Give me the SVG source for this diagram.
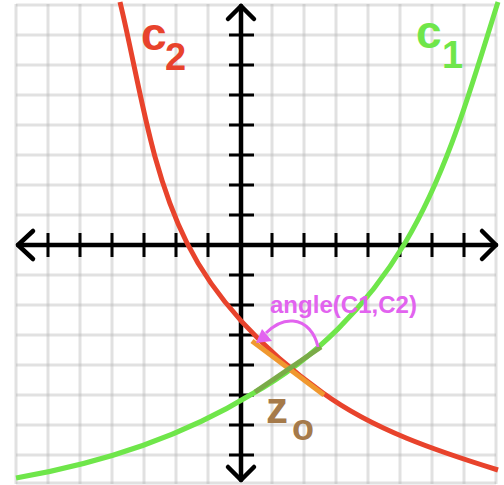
<svg xmlns="http://www.w3.org/2000/svg" width="504" height="485" viewBox="0 0 504 485">
<defs>
<style>
.grid line{stroke:#b8b8b8;stroke-opacity:0.42;stroke-width:3}
.axis{stroke:#000;stroke-width:4.5;fill:none;stroke-linecap:round;stroke-linejoin:round}
.tick line{stroke:#000;stroke-width:3}
.curve{fill:none;stroke-width:5;stroke-linecap:butt}
.lbl{font-family:"Liberation Sans",Arial,sans-serif;font-weight:bold}
</style>
</defs>
<rect width="504" height="485" fill="#fff"/>
<g id="grid" class="grid">
<line x1="16" y1="4" x2="16" y2="484"/><line x1="48" y1="4" x2="48" y2="484"/><line x1="80" y1="4" x2="80" y2="484"/><line x1="112" y1="4" x2="112" y2="484"/><line x1="144" y1="4" x2="144" y2="484"/><line x1="176" y1="4" x2="176" y2="484"/><line x1="208" y1="4" x2="208" y2="484"/><line x1="272" y1="4" x2="272" y2="484"/><line x1="304" y1="4" x2="304" y2="484"/><line x1="336" y1="4" x2="336" y2="484"/><line x1="368" y1="4" x2="368" y2="484"/><line x1="400" y1="4" x2="400" y2="484"/><line x1="432" y1="4" x2="432" y2="484"/><line x1="464" y1="4" x2="464" y2="484"/><line x1="496" y1="4" x2="496" y2="484"/>
<line x1="16" y1="5" x2="496" y2="5"/><line x1="16" y1="35" x2="496" y2="35"/><line x1="16" y1="65" x2="496" y2="65"/><line x1="16" y1="95" x2="496" y2="95"/><line x1="16" y1="125" x2="496" y2="125"/><line x1="16" y1="155" x2="496" y2="155"/><line x1="16" y1="185" x2="496" y2="185"/><line x1="16" y1="215" x2="496" y2="215"/><line x1="16" y1="275" x2="496" y2="275"/><line x1="16" y1="305" x2="496" y2="305"/><line x1="16" y1="335" x2="496" y2="335"/><line x1="16" y1="365" x2="496" y2="365"/><line x1="16" y1="395" x2="496" y2="395"/><line x1="16" y1="425" x2="496" y2="425"/><line x1="16" y1="455" x2="496" y2="455"/><line x1="16" y1="483" x2="496" y2="483"/>
</g>
<g id="axes">
<g class="tick">
<line x1="48" y1="233" x2="48" y2="257"/><line x1="80" y1="233" x2="80" y2="257"/><line x1="112" y1="233" x2="112" y2="257"/><line x1="144" y1="233" x2="144" y2="257"/><line x1="176" y1="233" x2="176" y2="257"/><line x1="208" y1="233" x2="208" y2="257"/><line x1="272" y1="233" x2="272" y2="257"/><line x1="304" y1="233" x2="304" y2="257"/><line x1="336" y1="233" x2="336" y2="257"/><line x1="368" y1="233" x2="368" y2="257"/><line x1="400" y1="233" x2="400" y2="257"/><line x1="432" y1="233" x2="432" y2="257"/><line x1="464" y1="233" x2="464" y2="257"/>
<line x1="229" y1="35" x2="254" y2="35"/><line x1="229" y1="65" x2="254" y2="65"/><line x1="229" y1="95" x2="254" y2="95"/><line x1="229" y1="125" x2="254" y2="125"/><line x1="229" y1="155" x2="254" y2="155"/><line x1="229" y1="185" x2="254" y2="185"/><line x1="229" y1="215" x2="254" y2="215"/><line x1="229" y1="275" x2="254" y2="275"/><line x1="229" y1="305" x2="254" y2="305"/><line x1="229" y1="335" x2="254" y2="335"/><line x1="229" y1="365" x2="254" y2="365"/><line x1="229" y1="395" x2="254" y2="395"/><line x1="229" y1="425" x2="254" y2="425"/><line x1="229" y1="455" x2="254" y2="455"/>
</g>
<line class="axis" x1="18" y1="245" x2="496" y2="245"/>
<line class="axis" x1="241" y1="6" x2="241" y2="480"/>
<polyline class="axis" points="33,231 18,245 33,259"/>
<polyline class="axis" points="482,231 496,245 482,259"/>
<polyline class="axis" points="228,19 241,6 254,19"/>
<polyline class="axis" points="228,467 241,480 254,467"/>
</g>
<g id="connectors">
<path id="C1" class="curve" stroke="#6fe64a" d="M16,478 C97,464 180,438 252,394 C315,359 368,305 405,243 C449,169 472,84 498,2"/>
<path id="C2" class="curve" stroke="#e8432c" d="M120,2 C139.5,82.7 149.9,168.8 187,243 C217,303 269,354 323,393 C374,430 437,451 498,470"/>
<line id="tangent2" class="curve" stroke="#f0982f" x1="252" y1="341" x2="324" y2="395"/>
<line id="tangent1" class="curve" stroke="#7aab48" x1="255" y1="392" x2="321" y2="347"/>
<g id="angle-arrow">
<path d="M318,347 C315,333 306,322 293,321 C282,320 273,326 266,333" fill="none" stroke="#e263ef" stroke-width="3"/>
<polygon points="256,343 262,329 272,341" fill="#e263ef"/>
</g>
</g>
<g id="label-c2" class="lbl" fill="#e8432c">
<text x="141" y="50" font-size="46">c</text>
<text x="165" y="70" font-size="38">2</text>
</g>
<g id="label-c1" class="lbl" fill="#6fe64a">
<text x="416" y="48" font-size="46">c</text>
<text x="442" y="68" font-size="38">1</text>
</g>
<g id="label-z0" class="lbl" fill="#a57a4a">
<text x="266" y="423" font-size="44">z</text>
<text x="292" y="440" font-size="36">o</text>
</g>
<g id="label-angle" class="lbl" fill="#e263ef">
<text x="270" y="313" font-size="24" textLength="147" lengthAdjust="spacingAndGlyphs">angle(C1,C2)</text>
</g>
</svg>
